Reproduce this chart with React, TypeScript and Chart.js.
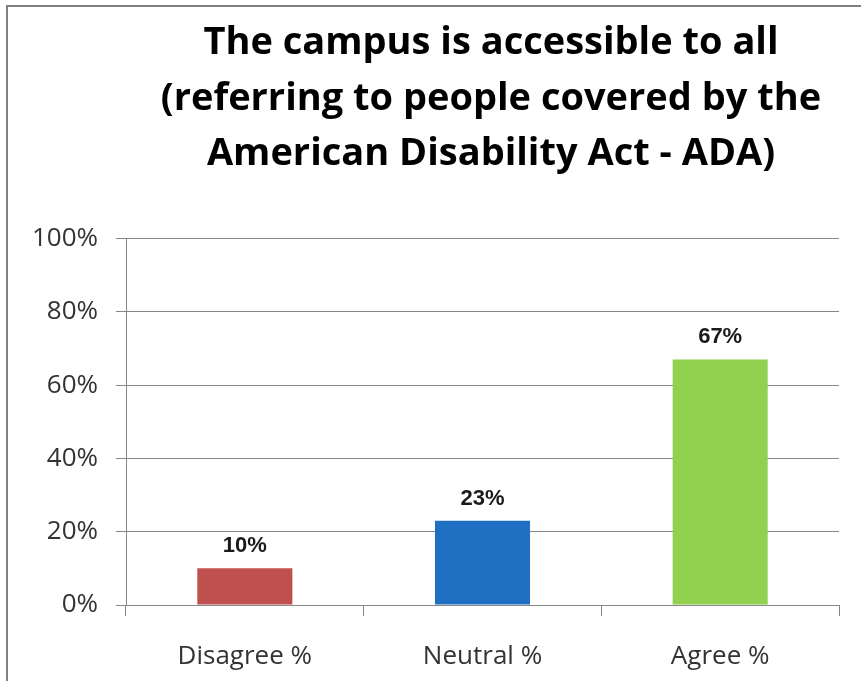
import React, { useEffect, useRef } from "react";
import { Chart, registerables } from "chart.js";

Chart.register(...registerables);

const titleLines = [
  "The campus is accessible to all",
  "(referring to people covered by the",
  "American Disability Act - ADA)",
];
const categories = ["Disagree %", "Neutral %", "Agree %"];
const values = [10, 23, 67];
const barColors = ["#C0504D", "#1F6FC3", "#92D050"];
const yTicks = [0, 20, 40, 60, 80, 100];

const valueLabels = {
  id: "valueLabels",
  afterDatasetsDraw(chart: any) {
    const ctx = chart.ctx;
    const meta = chart.getDatasetMeta(0);
    ctx.save();
    ctx.font = "bold 22px 'Liberation Sans', Arial, sans-serif";
    ctx.fillStyle = "#1a1a1a";
    ctx.textAlign = "center";
    ctx.textBaseline = "alphabetic";
    meta.data.forEach((bar: any, i: number) => {
      const v = chart.data.datasets[0].data[i];
      ctx.fillText(v + "%", bar.x, bar.y - 16);
    });
    ctx.restore();
  },
};

export default function App() {
  const ref = useRef<HTMLCanvasElement | null>(null);
  useEffect(() => {
    if (!ref.current) return;
    const chart = new Chart(ref.current, {
      type: "bar",
      data: {
        labels: categories,
        datasets: [
          {
            data: values,
            backgroundColor: barColors,
            borderWidth: 0,
            barPercentage: 0.4,
            categoryPercentage: 1,
          },
        ],
      },
      options: {
        animation: false,
        responsive: false,
        devicePixelRatio: 1,
        layout: { padding: 0 },
        plugins: {
          legend: { display: false },
          tooltip: { enabled: false },
          title: {
            display: true,
            text: titleLines,
            color: "#000",
            font: { family: "'Open Sans', sans-serif", size: 38, weight: "bold", lineHeight: 1.47 },
            padding: { top: 15, bottom: 56 },
          },
        },
        scales: {
          x: {
            grid: {
              display: true,
              drawOnChartArea: false,
              drawTicks: true,
              tickLength: 11,
              color: "#868686",
              offset: true,
            },
            border: { display: true, color: "#868686", width: 1 },
            ticks: {
              color: "#333",
              padding: 25,
              font: { family: "'Open Sans', sans-serif", size: 26 },
            },
            afterFit: (s: any) => {
              s.height = 76;
            },
          },
          y: {
            min: 0,
            max: 100,
            afterBuildTicks: (s: any) => {
              s.ticks = yTicks.map((v) => ({ value: v }));
            },
            grid: {
              color: "#868686",
              lineWidth: 1,
              drawTicks: true,
              tickLength: 10,
            },
            border: { display: true, color: "#868686", width: 1 },
            ticks: {
              color: "#333",
              padding: 18,
              font: { family: "'Open Sans', sans-serif", size: 26 },
              callback: (v: any) => v + "%",
            },
            afterFit: (s: any) => {
              s.width = 126;
            },
          },
          spacer: {
            type: "linear",
            position: "right",
            display: true,
            grid: { display: false, drawOnChartArea: false, drawTicks: false },
            border: { display: false },
            ticks: { display: false },
            afterFit: (s: any) => {
              s.width = 143;
            },
          },
        },
      },
      plugins: [valueLabels],
    });
    return () => chart.destroy();
  }, []);

  return (
    <div style={{ position: "absolute", left: 0, top: 0, width: 861, height: 681, overflow: "hidden", background: "#fff" }}>
      <div
        style={{
          position: "absolute",
          left: 6,
          top: 5,
          width: 900,
          height: 700,
          borderLeft: "2px solid #808080",
          borderTop: "2px solid #808080",
        }}
      />
      <canvas ref={ref} width={982} height={681} style={{ position: "absolute", left: 0, top: 0, width: 982, height: 681 }} />
    </div>
  );
}
